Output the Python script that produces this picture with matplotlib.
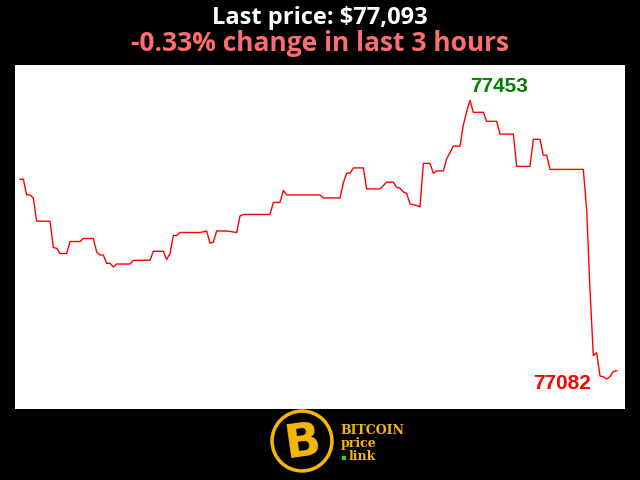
import matplotlib
matplotlib.use("Agg")
import matplotlib.pyplot as plt
from matplotlib.patches import Circle

# minute index within the last 3 hours and BTC price
minutes = [0, 1, 2, 3, 4, 5, 9, 10, 11, 12, 14, 15, 18, 19, 22, 23, 24, 25, 26, 27,
           28, 29, 33, 34, 39, 40, 43, 44, 45, 46, 47, 48, 54, 56, 57, 58, 59, 62,
           65, 66, 67, 75, 76, 78, 79, 80, 90, 91, 96, 97, 98, 99, 100, 103, 104,
           108, 110, 112, 113, 114, 115, 116, 117, 119, 120, 121, 123, 124, 125,
           127, 128, 130, 132, 133, 134, 135, 136, 139, 140, 143, 144, 148, 149,
           153, 154, 156, 157, 158, 159, 169, 170, 171, 172, 173, 174, 175, 176,
           177, 178, 179]
prices = [77348, 77348, 77327, 77327, 77323, 77292, 77292, 77257, 77256, 77249,
          77249, 77265, 77265, 77269, 77269, 77251, 77247, 77247, 77236, 77236,
          77231, 77235, 77235, 77240, 77240, 77252, 77252, 77241, 77249, 77273,
          77273, 77277, 77277, 77279, 77263, 77264, 77279, 77279, 77277, 77299,
          77301, 77301, 77317, 77317, 77333, 77327, 77327, 77323, 77323, 77343,
          77356, 77356, 77363, 77363, 77335, 77335, 77344, 77344, 77337, 77336,
          77331, 77329, 77315, 77313, 77311, 77369, 77369, 77356, 77359, 77359,
          77375, 77392, 77392, 77420, 77438, 77453, 77437, 77437, 77425, 77425,
          77408, 77408, 77365, 77365, 77401, 77401, 77380, 77380, 77361, 77361,
          77307, 77200, 77113, 77117, 77086, 77085, 77082, 77085, 77092, 77093]

last_price = "$77,093"
change_text = "-0.33% change in last 3 hours"

fig = plt.figure(figsize=(6.4, 4.8), dpi=100, facecolor="black")

fig.text(0.5, 1 - 24 / 480, "Last price: " + last_price, color="white",
         fontsize=17, fontweight="bold", family="Open Sans",
         ha="center", va="baseline")
fig.text(0.5, 1 - 51 / 480, change_text, color="#ff6e6e",
         fontsize=19, fontweight="bold", family="Open Sans",
         ha="center", va="baseline")

ax = fig.add_axes([15 / 640, 71 / 480, 610 / 640, 344 / 480])
ax.set_facecolor("white")
ax.plot(minutes, prices, color="red", linewidth=1)
ax.set_xlim(-1.5, 181.5)
ax.set_ylim(77042, 77500)
ax.set_xticks([])
ax.set_yticks([])
for s in ax.spines.values():
    s.set_visible(False)

imax = prices.index(max(prices))
imin = prices.index(min(prices))
ax.annotate(str(max(prices)), (minutes[imax], prices[imax]),
            xytext=(0, 6), textcoords="offset points", color="green",
            fontsize=15, fontweight="bold", family="Liberation Sans",
            ha="left", va="baseline")
ax.annotate(str(min(prices)), (minutes[imin], prices[imin]),
            xytext=(-11, -3), textcoords="offset points", color="red",
            fontsize=15, fontweight="bold", family="Liberation Sans",
            ha="right", va="center")

# logo, drawn in pixel coordinates
lg = fig.add_axes([0, 0, 1, 1], facecolor="none")
lg.set_xlim(0, 640)
lg.set_ylim(480, 0)
lg.axis("off")
gold = "#f5b80a"
lg.add_patch(Circle((302, 441), 31, color=gold))
lg.add_patch(Circle((302, 441), 27.5, color="black"))
lg.text(303, 443, "B", color=gold, fontsize=34, fontweight="heavy",
        family="DejaVu Sans", ha="center", va="center", rotation=8)
logo_font = dict(color=gold, fontsize=9, fontweight="bold",
                 family="DejaVu Serif", ha="left", va="center")
lg.text(340, 430, "BITCOIN", **logo_font)
lg.text(341, 443, "price", **logo_font)
lg.text(349, 457, "link", **logo_font)
lg.add_patch(plt.Rectangle((342, 456), 3, 3, color="#2ecc40"))

fig.savefig("out.png", dpi=100, facecolor="black")
